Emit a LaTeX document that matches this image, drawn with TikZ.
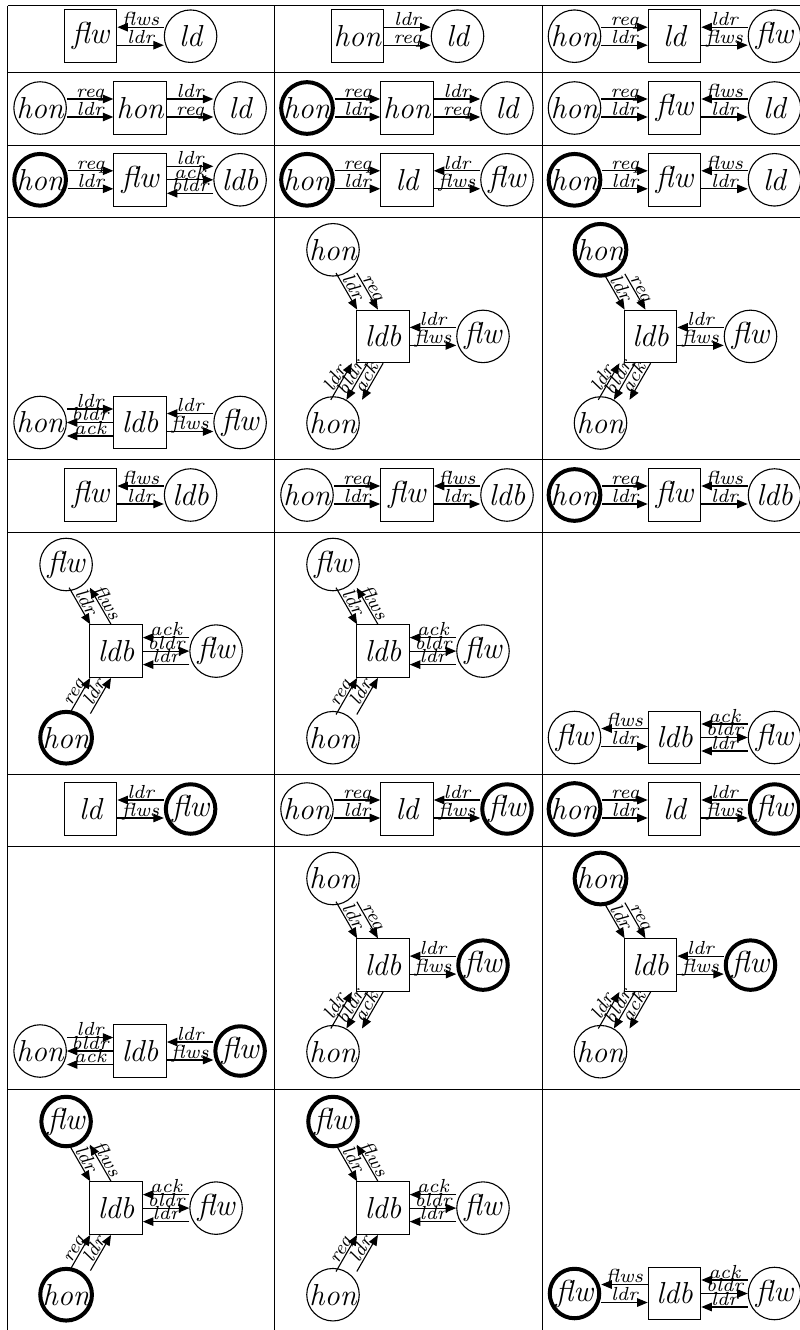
\documentclass[tikz,border=0pt]{standalone}
\usepackage{graphicx}
\usetikzlibrary{arrows.meta}
\newcommand\nt[1]{\scalebox{2.53}{\large\itshape #1}}
\newcommand\lt[1]{\scalebox{2.7}{\scriptsize\itshape #1}}
\tikzset{
 cn/.style={circle,draw,line width=1.1pt,minimum size=52.5pt,inner sep=0pt},
 cnt/.style={cn,line width=4pt,minimum size=49.5pt},
 rn/.style={rectangle,draw,line width=1.1pt,minimum size=52.5pt,inner sep=0pt},
 arr/.style={-{Triangle[length=10.5pt,width=8.5pt]},line width=1.1pt},
 lab/.style={inner sep=1.2pt,text depth=0pt,above,sloped,midway},
 sU/.style={transform canvas={yshift=9pt}},
 sD/.style={transform canvas={yshift=-9pt}},
 sU3/.style={transform canvas={yshift=13.5pt}},
 sD3/.style={transform canvas={yshift=-13.5pt}},
 sL/.style={transform canvas={xshift=-10.4pt}},
 sR/.style={transform canvas={xshift=10.4pt}},
 sL3/.style={transform canvas={xshift=-15.6pt}},
 sR3/.style={transform canvas={xshift=15.6pt}},
 gridline/.style={line width=1pt},
}
% two nodes: rectangle, circle
\newcommand\LayA[6]{%
 \begin{scope}[shift={(#2,#3)}]
 \node[rn] (r#1) at (83,0) {\nt{#4}};
 \node[#5] (c#1) at (183,0) {\nt{#6}};
 \end{scope}}
% three nodes in a row: circle, rectangle, circle
\newcommand\LayB[8]{%
 \begin{scope}[shift={(#2,#3)}]
 \node[#4] (a#1) at (32.5,0) {\nt{#5}};
 \node[rn] (b#1) at (132.5,0) {\nt{#6}};
 \node[#7] (c#1) at (232.5,0) {\nt{#8}};
 \end{scope}}
% triangle: top, middle rectangle ldb, right, bottom
\newcommand\LayC[9]{%
 \begin{scope}[shift={(#2,#3)}]
 \node[rn] (m#1) at (108.5,119.1) {\nt{ldb}};
 \node[#4] (t#1) at (58.5,32.5) {\nt{#5}};
 \node[#6] (r#1) at (208.5,119.1) {\nt{#7}};
 \node[#8] (h#1) at (58.5,205.7) {\nt{#9}};
 \end{scope}}
\newcommand\Ed[4]{\draw[arr,#1] (#2) -- node[lab]{\lt{#4}} (#3);}
\newcommand\LeftRL[1]{\Ed{sU}{a#1}{b#1}{req}\Ed{sD}{a#1}{b#1}{ldr}}
\begin{document}
\begin{tikzpicture}[x=1pt,y=-1pt]
\useasboundingbox (0,0) rectangle (800,1330);
\fill[white] (0,0) rectangle (800,1330);
% grid
\foreach \yy in {6,72.7,145,217.3,459,532,774,846,1089}
  \draw[gridline] (7.6,\yy) -- (805,\yy);
\foreach \xx in {7.6,274.5,542}
  \draw[gridline] (\xx,6) -- (\xx,1335);
% row 1
\LayA{11}{7.6}{36.2}{flw}{cn}{ld}
\Ed{sU}{c11}{r11}{flws}\Ed{sD}{r11}{c11}{ldr}
\LayA{12}{274.5}{36.2}{hon}{cn}{ld}
\Ed{sU}{r12}{c12}{ldr}\Ed{sD}{r12}{c12}{req}
\LayB{13}{542}{36.2}{cn}{hon}{ld}{cn}{flw}
\LeftRL{13}\Ed{sU}{c13}{b13}{ldr}\Ed{sD}{b13}{c13}{flws}
% row 2
\LayB{21}{7.6}{108}{cn}{hon}{hon}{cn}{ld}
\LeftRL{21}\Ed{sU}{b21}{c21}{ldr}\Ed{sD}{b21}{c21}{req}
\LayB{22}{274.5}{108}{cnt}{hon}{hon}{cn}{ld}
\LeftRL{22}\Ed{sU}{b22}{c22}{ldr}\Ed{sD}{b22}{c22}{req}
\LayB{23}{542}{108}{cn}{hon}{flw}{cn}{ld}
\LeftRL{23}\Ed{sU}{c23}{b23}{flws}\Ed{sD}{b23}{c23}{ldr}
% row 3
\LayB{31}{7.6}{179.8}{cnt}{hon}{flw}{cn}{ldb}
\LeftRL{31}\Ed{sU3}{b31}{c31}{ldr}\Ed{}{b31}{c31}{ack}\Ed{sD3}{c31}{b31}{bldr}
\LayB{32}{274.5}{179.8}{cnt}{hon}{ld}{cn}{flw}
\LeftRL{32}\Ed{sU}{c32}{b32}{ldr}\Ed{sD}{b32}{c32}{flws}
\LayB{33}{542}{179.8}{cnt}{hon}{flw}{cn}{ld}
\LeftRL{33}\Ed{sU}{c33}{b33}{flws}\Ed{sD}{b33}{c33}{ldr}
% row 4
\LayB{41}{7.6}{422.5}{cn}{hon}{ldb}{cn}{flw}
\Ed{sU3}{a41}{b41}{ldr}\Ed{}{b41}{a41}{bldr}\Ed{sD3}{b41}{a41}{ack}
\Ed{sU}{c41}{b41}{ldr}\Ed{sD}{b41}{c41}{flws}
\LayC{42}{274.5}{217.3}{cn}{hon}{cn}{flw}{cn}{hon}
\Ed{sL}{t42}{m42}{ldr}\Ed{sR}{t42}{m42}{req}
\Ed{sU}{r42}{m42}{ldr}\Ed{sD}{m42}{r42}{flws}
\Ed{sL3}{h42}{m42}{ldr}\Ed{}{m42}{h42}{bldr}\Ed{sR3}{m42}{h42}{ack}
\LayC{43}{542}{217.3}{cnt}{hon}{cn}{flw}{cn}{hon}
\Ed{sL}{t43}{m43}{ldr}\Ed{sR}{t43}{m43}{req}
\Ed{sU}{r43}{m43}{ldr}\Ed{sD}{m43}{r43}{flws}
\Ed{sL3}{h43}{m43}{ldr}\Ed{}{m43}{h43}{bldr}\Ed{sR3}{m43}{h43}{ack}
% row 5
\LayA{51}{7.6}{495}{flw}{cn}{ldb}
\Ed{sU}{c51}{r51}{flws}\Ed{sD}{r51}{c51}{ldr}
\LayB{52}{274.5}{495}{cn}{hon}{flw}{cn}{ldb}
\LeftRL{52}\Ed{sU}{c52}{b52}{flws}\Ed{sD}{b52}{c52}{ldr}
\LayB{53}{542}{495}{cnt}{hon}{flw}{cn}{ldb}
\LeftRL{53}\Ed{sU}{c53}{b53}{flws}\Ed{sD}{b53}{c53}{ldr}
% row 6
\LayC{61}{7.6}{532}{cn}{flw}{cn}{flw}{cnt}{hon}
\Ed{sL}{t61}{m61}{ldr}\Ed{sR}{m61}{t61}{flws}
\Ed{sU3}{r61}{m61}{ack}\Ed{}{m61}{r61}{bldr}\Ed{sD3}{r61}{m61}{ldr}
\Ed{sL}{h61}{m61}{req}\Ed{sR}{h61}{m61}{ldr}
\LayC{62}{274.5}{532}{cn}{flw}{cn}{flw}{cn}{hon}
\Ed{sL}{t62}{m62}{ldr}\Ed{sR}{m62}{t62}{flws}
\Ed{sU3}{r62}{m62}{ack}\Ed{}{m62}{r62}{bldr}\Ed{sD3}{r62}{m62}{ldr}
\Ed{sL}{h62}{m62}{req}\Ed{sR}{h62}{m62}{ldr}
\LayB{63}{542}{737.5}{cn}{flw}{ldb}{cn}{flw}
\Ed{sU}{b63}{a63}{flws}\Ed{sD}{a63}{b63}{ldr}
\Ed{sU3}{c63}{b63}{ack}\Ed{}{b63}{c63}{bldr}\Ed{sD3}{c63}{b63}{ldr}
% row 7
\LayA{71}{7.6}{809}{ld}{cnt}{flw}
\Ed{sU}{c71}{r71}{ldr}\Ed{sD}{r71}{c71}{flws}
\LayB{72}{274.5}{809}{cn}{hon}{ld}{cnt}{flw}
\LeftRL{72}\Ed{sU}{c72}{b72}{ldr}\Ed{sD}{b72}{c72}{flws}
\LayB{73}{542}{809}{cnt}{hon}{ld}{cnt}{flw}
\LeftRL{73}\Ed{sU}{c73}{b73}{ldr}\Ed{sD}{b73}{c73}{flws}
% row 8
\LayB{81}{7.6}{1051}{cn}{hon}{ldb}{cnt}{flw}
\Ed{sU3}{a81}{b81}{ldr}\Ed{}{b81}{a81}{bldr}\Ed{sD3}{b81}{a81}{ack}
\Ed{sU}{c81}{b81}{ldr}\Ed{sD}{b81}{c81}{flws}
\LayC{82}{274.5}{846}{cn}{hon}{cnt}{flw}{cn}{hon}
\Ed{sL}{t82}{m82}{ldr}\Ed{sR}{t82}{m82}{req}
\Ed{sU}{r82}{m82}{ldr}\Ed{sD}{m82}{r82}{flws}
\Ed{sL3}{h82}{m82}{ldr}\Ed{}{m82}{h82}{bldr}\Ed{sR3}{m82}{h82}{ack}
\LayC{83}{542}{846}{cnt}{hon}{cnt}{flw}{cn}{hon}
\Ed{sL}{t83}{m83}{ldr}\Ed{sR}{t83}{m83}{req}
\Ed{sU}{r83}{m83}{ldr}\Ed{sD}{m83}{r83}{flws}
\Ed{sL3}{h83}{m83}{ldr}\Ed{}{m83}{h83}{bldr}\Ed{sR3}{m83}{h83}{ack}
% row 9
\LayC{91}{7.6}{1089}{cnt}{flw}{cn}{flw}{cnt}{hon}
\Ed{sL}{t91}{m91}{ldr}\Ed{sR}{m91}{t91}{flws}
\Ed{sU3}{r91}{m91}{ack}\Ed{}{m91}{r91}{bldr}\Ed{sD3}{r91}{m91}{ldr}
\Ed{sL}{h91}{m91}{req}\Ed{sR}{h91}{m91}{ldr}
\LayC{92}{274.5}{1089}{cnt}{flw}{cn}{flw}{cn}{hon}
\Ed{sL}{t92}{m92}{ldr}\Ed{sR}{m92}{t92}{flws}
\Ed{sU3}{r92}{m92}{ack}\Ed{}{m92}{r92}{bldr}\Ed{sD3}{r92}{m92}{ldr}
\Ed{sL}{h92}{m92}{req}\Ed{sR}{h92}{m92}{ldr}
\LayB{93}{542}{1293.5}{cnt}{flw}{ldb}{cn}{flw}
\Ed{sU}{b93}{a93}{flws}\Ed{sD}{a93}{b93}{ldr}
\Ed{sU3}{c93}{b93}{ack}\Ed{}{b93}{c93}{bldr}\Ed{sD3}{c93}{b93}{ldr}
\end{tikzpicture}
\end{document}
